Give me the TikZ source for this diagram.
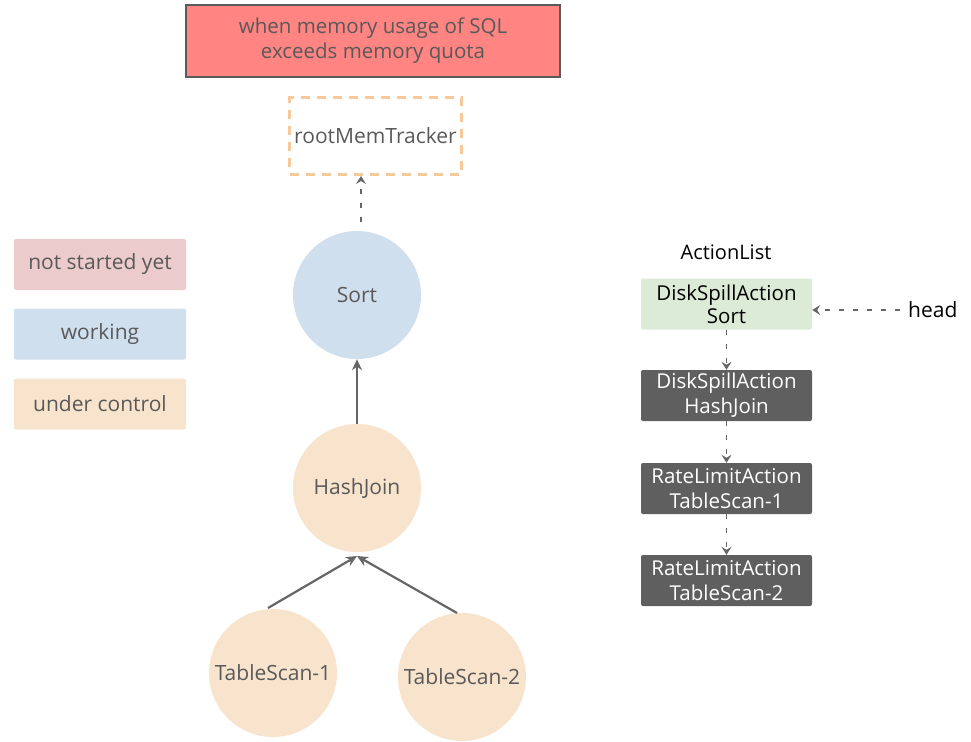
\documentclass[tikz,border=0pt]{standalone}
\usepackage{fontspec}
\setmainfont{Open Sans}
\usetikzlibrary{arrows.meta}
\definecolor{alarm}{HTML}{FF8482}
\definecolor{framegray}{HTML}{5A5A5A}
\definecolor{txtgray}{HTML}{595959}
\definecolor{tracker}{HTML}{F5C99B}
\definecolor{notstarted}{HTML}{EBCBCB}
\definecolor{working}{HTML}{D0DFEE}
\definecolor{control}{HTML}{F8E4CC}
\definecolor{headgreen}{HTML}{DCEBD5}
\definecolor{actdark}{HTML}{5F5F5F}
\definecolor{linkgray}{HTML}{666666}
\tikzset{
  every node/.style={font=\fontsize{21}{25}\selectfont, text=txtgray, align=center},
  op/.style={circle, fill=#1, minimum size=128pt, inner sep=0pt},
  legend/.style={rounded corners=2pt, fill=#1, minimum width=172pt, minimum height=51pt, inner sep=0pt},
  action/.style={rounded corners=2pt, fill=actdark, text=white, minimum width=171pt, minimum height=51pt, inner sep=0pt, font=\fontsize{20.5}{25}\selectfont},
  solidlink/.style={draw=linkgray, line width=2.2pt, -{Stealth[length=11pt,width=10pt]}},
  dashlink/.style={draw=linkgray, line width=1.6pt, dash pattern=on 5pt off 9pt, -{Stealth[length=8pt,width=10pt,inset=3pt]}},
}
\begin{document}
\begin{tikzpicture}[x=1pt,y=-1pt]
\useasboundingbox (0,0) rectangle (971,741);

% alert banner and memory tracker
\node[draw=framegray, line width=2pt, fill=alarm, minimum width=374pt, minimum height=72pt, inner sep=0pt, font=\fontsize{20.5}{25}\selectfont] (alert) at (373,41) {when memory usage of SQL\\exceeds memory quota};
\node[draw=tracker, line width=3pt, dash pattern=on 9pt off 7pt, minimum width=172pt, minimum height=76pt, inner sep=0pt] (tracker) at (375.5,136) {rootMemTracker};

% operator tree
\node[op=working] (sort) at (357,295) {Sort};
\node[op=control] (hj) at (357,488) {HashJoin};
\node[op=control] (ts1) at (273,673) {TableScan-1};
\node[op=control] (ts2) at (462,677) {TableScan-2};
\coordinate (hjin) at (357,556);
\coordinate (ts1out) at (268,608);
\coordinate (ts2out) at (457,613);
\coordinate (sortout) at (361,222);
\coordinate (trackin) at (361,176);

\draw[solidlink] (hj.north) -- (sort.south);
\draw[solidlink] (ts1out) -- (hjin);
\draw[solidlink] (ts2out) -- (hjin);
\draw[dashlink] (sortout) -- (trackin);

% legend
\node[legend=notstarted] (lg1) at (100,264.5) {not started yet};
\node[legend=working] (lg2) at (100,334) {working};
\node[legend=control] (lg3) at (100,404) {under control};

% action list
\node[text=black, font=\fontsize{20}{24}\selectfont] (title) at (726,252) {ActionList};
\node[action, fill=headgreen, text=black] (a1) at (726.5,304) {\raisebox{-2pt}{\shortstack{DiskSpillAction\\Sort}}};
\node[action] (a2) at (726.5,395.5) {DiskSpillAction\\HashJoin};
\node[action] (a3) at (726.5,488.5) {RateLimitAction\\TableScan-1};
\node[action] (a4) at (726.5,580.5) {RateLimitAction\\TableScan-2};
\node[text=black, anchor=west, inner xsep=2pt] (head) at (906,310) {head};
\coordinate (headtail) at ([xshift=-6pt]head.west);

\draw[dashlink] (a1.south) -- (a2.north);
\draw[dashlink] (a2.south) -- (a3.north);
\draw[dashlink] (a3.south) -- (a4.north);
\draw[dashlink] (headtail) -- (a1.east |- headtail);
\end{tikzpicture}
\end{document}
